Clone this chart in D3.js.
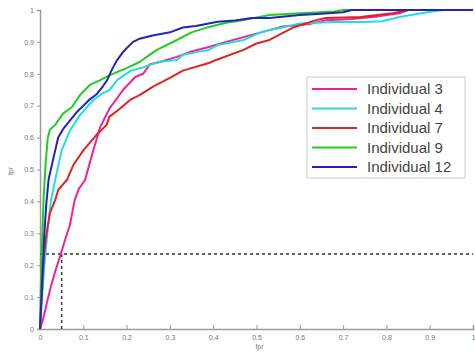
<!DOCTYPE html>
<html>
<head>
<meta charset="utf-8">
<script src="https://cdn.jsdelivr.net/npm/d3@7"></script>
<style>
  body { margin: 0; background: #fff; }
  svg { display: block; font-family: "Liberation Sans", Arial, sans-serif; }
</style>
</head>
<body>
<svg id="chart"></svg>
<script>
// ROC curves, one per individual (fpr on x, tpr on y)
const names = ["Individual 3", "Individual 4", "Individual 7", "Individual 9", "Individual 12"]
const colors = ["#ee2299", "#22dde0", "#dd2424", "#22cc22", "#2424bb"]

const fpr3 = [0,0.007,0.012,0.023,0.035,0.048,0.058,0.069,0.08,0.09,0.104,0.123,0.139,0.16,0.192,0.22,0.238,0.254,0.277,0.316,0.35,0.39,0.43,0.47,0.53,0.56,0.62,0.66,0.72,0.78,0.83,0.85,1]
const tpr3 = [0,0.03,0.06,0.122,0.18,0.235,0.28,0.326,0.404,0.44,0.467,0.56,0.633,0.69,0.75,0.79,0.8,0.83,0.837,0.853,0.87,0.884,0.9,0.915,0.937,0.948,0.955,0.968,0.972,0.98,0.99,1,1]

const fpr4 = [0,0.005,0.01,0.017,0.025,0.035,0.05,0.07,0.092,0.123,0.146,0.16,0.178,0.21,0.238,0.254,0.277,0.316,0.33,0.39,0.41,0.47,0.51,0.53,0.56,0.6,0.68,0.75,0.79,0.83,0.88,0.93,1]
const tpr4 = [0,0.1,0.2,0.3,0.4,0.467,0.56,0.624,0.67,0.718,0.74,0.748,0.78,0.81,0.82,0.828,0.838,0.843,0.86,0.875,0.89,0.906,0.93,0.937,0.945,0.958,0.962,0.962,0.965,0.978,0.99,1,1]

const fpr7 = [0,0.003,0.006,0.01,0.015,0.023,0.035,0.042,0.062,0.077,0.1,0.13,0.154,0.16,0.18,0.208,0.23,0.261,0.3,0.33,0.39,0.41,0.47,0.5,0.53,0.584,0.64,0.66,0.74,0.815,0.85,1]
const tpr7 = [0,0.08,0.16,0.24,0.3,0.364,0.404,0.436,0.467,0.514,0.56,0.608,0.64,0.665,0.686,0.718,0.733,0.76,0.787,0.81,0.834,0.845,0.875,0.895,0.906,0.945,0.969,0.975,0.978,0.99,1,1]

const fpr9 = [0,0.003,0.008,0.013,0.018,0.023,0.035,0.053,0.074,0.092,0.115,0.139,0.16,0.2,0.23,0.254,0.27,0.316,0.35,0.39,0.43,0.47,0.53,0.6,0.68,0.7,1]
const tpr9 = [0,0.2,0.4,0.52,0.6,0.625,0.64,0.675,0.696,0.733,0.765,0.78,0.795,0.818,0.837,0.86,0.875,0.906,0.93,0.947,0.96,0.969,0.984,0.99,0.995,1,1]

const fpr12 = [0,0.005,0.01,0.015,0.02,0.03,0.042,0.055,0.07,0.085,0.1,0.115,0.13,0.145,0.155,0.165,0.178,0.19,0.2,0.215,0.23,0.26,0.3,0.33,0.36,0.41,0.45,0.49,0.53,0.6,0.65,0.7,0.72,1]
const tpr12 = [0,0.15,0.3,0.4,0.47,0.53,0.6,0.63,0.655,0.68,0.7,0.72,0.735,0.76,0.78,0.81,0.843,0.865,0.88,0.9,0.91,0.92,0.93,0.945,0.95,0.963,0.967,0.975,0.975,0.984,0.988,0.993,1,1]

const series = [[fpr3, tpr3], [fpr4, tpr4], [fpr7, tpr7], [fpr9, tpr9], [fpr12, tpr12]]

// operating point marked with dashed lines
const cutFpr = 0.05
const cutTpr = 0.235

const xTicks = [0, 0.1, 0.2, 0.3, 0.4, 0.5, 0.6, 0.7, 0.8, 0.9, 1]
const yTicks = [0, 0.1, 0.2, 0.3, 0.4, 0.5, 0.6, 0.7, 0.8, 0.9, 1]

const w = 475
const h = 358
const padL = 40, padR = 473, padT = 10, padB = 329

const svg = d3.select("#chart").attr("width", w).attr("height", h)

const x = d3.scaleLinear().domain([0, 1]).range([padL, padR])
const y = d3.scaleLinear().domain([0, 1]).range([padB, padT])

// axes
const xAxis = svg.append("g")
    .attr("transform", `translate(0, ${padB})`)
    .call(d3.axisBottom(x).tickValues(xTicks).tickSize(-4).tickPadding(6).tickFormat(d3.format("")))
const yAxis = svg.append("g")
    .attr("transform", `translate(${padL}, 0)`)
    .call(d3.axisLeft(y).tickValues(yTicks).tickSize(3).tickPadding(3).tickFormat(d3.format("")))

for (const g of [xAxis, yAxis]) {
    g.select(".domain").attr("stroke", "#9a9a9a").attr("stroke-width", 1.5)
    g.selectAll(".tick line").attr("stroke", "#999")
    g.selectAll(".tick text").attr("fill", "#777").style("font-size", "7px")
}

svg.append("text")
    .attr("x", (padL + padR) / 2 + 3).attr("y", 349)
    .attr("text-anchor", "middle")
    .attr("fill", "#777").style("font-size", "7px")
    .text("fpr")
svg.append("text")
    .attr("transform", "translate(13, 171) rotate(-90)")
    .attr("text-anchor", "middle")
    .attr("fill", "#777").style("font-size", "7px")
    .text("tpr")

// dashed guide lines
svg.append("path")
    .attr("d", `M${x(0)},${y(cutTpr)}H${x(1)}M${x(cutFpr)},${y(0)}V${y(cutTpr)}`)
    .attr("fill", "none")
    .attr("stroke", "#333")
    .attr("stroke-width", 1.4)
    .attr("stroke-dasharray", "3,3")

// curves
const line = d3.line().x(d => x(d[0])).y(d => y(d[1]))
series.forEach((s, i) => {
    const pts = s[0].map((v, j) => [v, s[1][j]])
    svg.append("path")
        .datum(pts)
        .attr("d", line)
        .attr("fill", "none")
        .attr("stroke", colors[i])
        .attr("stroke-width", 2)
        .attr("stroke-linejoin", "round")
})

// legend
const legend = svg.append("g")
legend.append("rect")
    .attr("x", 307).attr("y", 77).attr("width", 158).attr("height", 101)
    .attr("fill", "#fff").attr("stroke", "#ccc")
names.forEach((n, i) => {
    const ly = 89 + i * 19.5
    legend.append("line")
        .attr("x1", 312).attr("x2", 357).attr("y1", ly).attr("y2", ly)
        .attr("stroke", colors[i]).attr("stroke-width", 2)
    legend.append("text")
        .attr("x", 367).attr("y", ly + 5)
        .attr("fill", "#444").style("font-size", "15px")
        .text(n)
})
</script>
</body>
</html>
